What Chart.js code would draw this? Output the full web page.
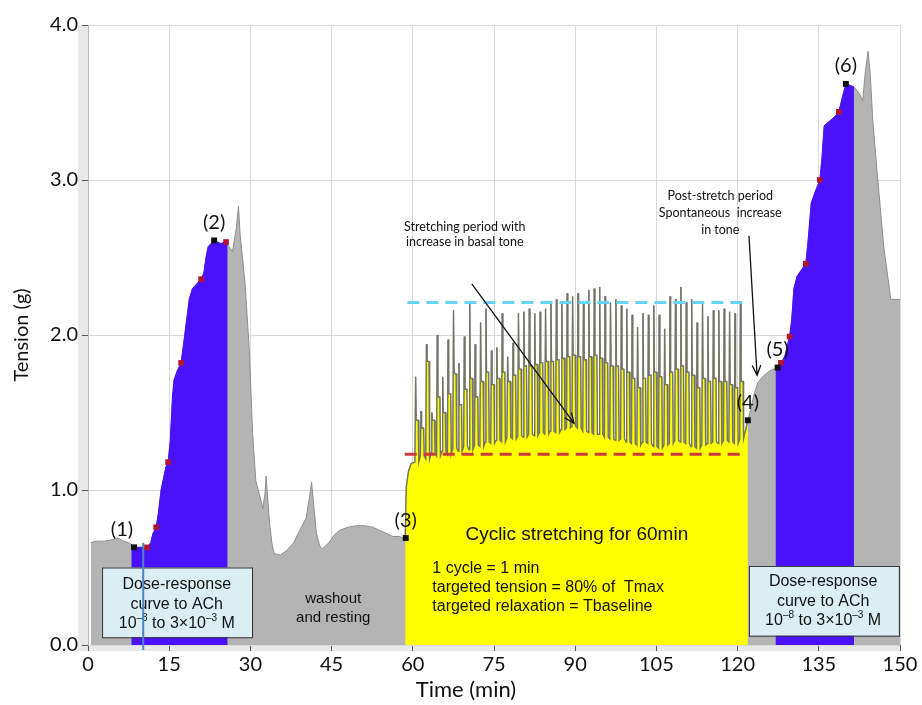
<!DOCTYPE html>
<html>
<head>
<meta charset="utf-8">
<script src="https://cdn.jsdelivr.net/npm/chart.js@4.4.0/dist/chart.umd.min.js"></script>
<style>
  html, body { margin: 0; padding: 0; background: #fff; }
</style>
</head>
<body>
<canvas id="chart-display" width="922" height="705"></canvas>
<script>
// tension trace: time in min, tension in g
var preTime    = [0.5, 1.5, 3.0, 4.5, 5.5, 6.5, 7.5];
var preTension = [0.66, 0.67, 0.67, 0.68, 0.69, 0.67, 0.66];

// first dose-response curve to ACh
var dose1Time    = [8.0, 8.5, 10.9, 11.6, 12.0, 12.6, 13.0, 13.5, 14.4, 14.8, 15.2, 15.6, 15.9, 16.5, 17.2, 17.8, 18.7, 19.3, 20.9, 21.4, 21.8, 22.2, 23.3, 24.5, 25.5, 25.8];
var dose1Tension = [0.65, 0.63, 0.63, 0.66, 0.72, 0.76, 0.85, 1.00, 1.15, 1.18, 1.32, 1.60, 1.71, 1.77, 1.82, 1.98, 2.23, 2.30, 2.36, 2.40, 2.50, 2.57, 2.61, 2.59, 2.60, 2.58];

// washout and resting
var washTime    = [26.3, 26.7, 27.4, 27.8, 28.1, 29.0, 29.8, 30.4, 31.0, 31.9, 32.3, 32.7, 32.9, 33.5, 34.0, 34.4, 35.5, 36.7, 38.0, 39.1, 40.3, 40.9, 41.3, 41.7, 42.2, 42.8, 43.3, 44.5, 45.5, 46.5, 48.0, 49.6, 51.0, 52.6, 54.5, 56.3, 57.5, 58.3];
var washTension = [2.56, 2.54, 2.69, 2.83, 2.65, 2.34, 1.90, 1.37, 1.06, 0.94, 0.88, 0.98, 1.09, 0.80, 0.65, 0.59, 0.58, 0.61, 0.66, 0.74, 0.82, 0.95, 1.05, 0.90, 0.72, 0.64, 0.62, 0.66, 0.71, 0.74, 0.76, 0.77, 0.77, 0.76, 0.73, 0.70, 0.70, 0.69];

// cyclic stretching, 1 cycle = 1 min, starting at min 60
var stretchLeadTime    = [58.6, 58.8, 59.2, 59.7];
var stretchLeadTension = [0.69, 1.02, 1.12, 1.17];
var cycleStart = 60;
var cyclePeaks = [1.73, 1.51, 1.94, 1.50, 2.00, 1.73, 1.97, 2.16, 1.82, 1.99,
                  2.21, 1.94, 2.08, 2.17, 1.90, 1.92, 2.14, 1.86, 1.95, 2.14,
                  2.15, 2.17, 2.14, 2.15, 2.17, 2.21, 2.23, 2.21, 2.27, 2.25,
                  2.27, 2.21, 2.29, 2.30, 2.31, 2.25, 2.21, 2.23, 2.19, 2.17,
                  2.13, 2.05, 2.14, 2.13, 2.19, 2.13, 2.04, 2.25, 2.23, 2.31,
                  2.21, 2.23, 2.08, 2.21, 2.12, 2.16, 2.16, 2.17, 2.15, 2.14,
                  2.21];
var cycleMids  = [1.45, 1.40, 1.83, 1.45, 1.60, 1.50, 1.62, 1.75, 1.55, 1.65,
                  1.72, 1.60, 1.70, 1.76, 1.68, 1.72, 1.76, 1.70, 1.74, 1.78,
                  1.80, 1.80, 1.81, 1.82, 1.83, 1.83, 1.84, 1.85, 1.86, 1.87,
                  1.86, 1.84, 1.86, 1.87, 1.85, 1.82, 1.80, 1.80, 1.78, 1.76,
                  1.72, 1.66, 1.72, 1.74, 1.76, 1.73, 1.68, 1.76, 1.78, 1.80,
                  1.76, 1.74, 1.66, 1.72, 1.70, 1.72, 1.70, 1.70, 1.68, 1.66,
                  1.70];
var cycleLows  = [1.18, 1.22, 1.20, 1.24, 1.22, 1.25, 1.23, 1.27, 1.25, 1.28,
                  1.26, 1.29, 1.28, 1.31, 1.30, 1.32, 1.31, 1.34, 1.33, 1.35,
                  1.34, 1.36, 1.35, 1.37, 1.36, 1.38, 1.37, 1.39, 1.40, 1.41,
                  1.40, 1.38, 1.37, 1.36, 1.36, 1.34, 1.33, 1.32, 1.33, 1.31,
                  1.30, 1.29, 1.31, 1.30, 1.28, 1.27, 1.29, 1.30, 1.32, 1.31,
                  1.30, 1.28, 1.27, 1.29, 1.30, 1.31, 1.30, 1.32, 1.31, 1.30,
                  1.33];

// post-stretch period
var postTime    = [121.9, 122.4, 123.0, 123.7, 124.6, 125.6, 126.5];
var postTension = [1.45, 1.52, 1.61, 1.69, 1.73, 1.76, 1.78];

// second dose-response curve to ACh
var dose2Time    = [127.0, 127.4, 128.0, 128.7, 129.2, 129.6, 130.0, 130.4, 131.0, 132.6, 133.0, 133.6, 134.4, 135.2, 135.6, 136.0, 137.0, 138.0, 138.7, 139.4, 140.0, 140.8, 141.5];
var dose2Tension = [1.78, 1.79, 1.82, 1.86, 1.93, 1.99, 2.10, 2.30, 2.38, 2.46, 2.60, 2.85, 2.93, 3.00, 3.15, 3.35, 3.38, 3.41, 3.44, 3.54, 3.62, 3.61, 3.60];

var tailTime    = [142.0, 142.6, 143.1, 143.6, 144.1, 144.5, 145.0, 145.9, 147.0, 148.3, 150.0];
var tailTension = [3.58, 3.55, 3.51, 3.70, 3.83, 3.68, 3.37, 3.00, 2.57, 2.23, 2.23];

// numbered points and ACh doses
var stepLabels  = ['(1)', '(2)', '(3)', '(4)', '(5)', '(6)'];
var stepTime    = [8.5, 23.3, 58.7, 121.9, 127.4, 140.0];
var stepTension = [0.63, 2.61, 0.69, 1.45, 1.79, 3.62];
var doseTime    = [10.9, 12.6, 14.8, 17.2, 20.9, 25.5, 128.0, 129.6, 132.6, 135.2, 138.7];
var doseTension = [0.63, 0.76, 1.18, 1.82, 2.36, 2.60, 1.82, 1.99, 2.46, 3.00, 3.44];

// stretching targets
var tBaseline = 1.23;
var tTarget = 2.21;
var targetStart = [58.5, 59.0];
var targetEnd = 121.0;
var achTime = 10.2;

var xTicks = [0, 15, 30, 45, 60, 75, 90, 105, 120, 135, 150];

function pts(t, v) {
    return t.map(function(x, i) { return { x: x, y: v[i] }; });
}

function cyclePoints() {
    var out = [];
    for (var i = 0; i < cyclePeaks.length; i++) {
        var t = cycleStart + i;
        out.push({ x: t + 0.40, y: cycleLows[i] });
        out.push({ x: t + 0.52, y: cyclePeaks[i] });
        out.push({ x: t + 0.62, y: cycleMids[i] });
        out.push({ x: t + 1.00, y: cycleMids[i] });
        out.push({ x: t + 1.10, y: cycleLows[i] });
    }
    return out;
}

var dose1 = pts(dose1Time, dose1Tension);
var dose2 = pts(dose2Time, dose2Tension);
var post = pts(postTime, postTension);
var stretch = pts(stretchLeadTime, stretchLeadTension).concat(cyclePoints(), [post[0]]);
var trace = pts(preTime, preTension).concat(dose1, pts(washTime, washTension), stretch, post.slice(1), dose2, pts(tailTime, tailTension));

function arrow(ctx, x1, y1, x2, y2) {
    var a = Math.atan2(y2 - y1, x2 - x1), h = 11;
    ctx.beginPath();
    ctx.moveTo(x1, y1);
    ctx.lineTo(x2, y2);
    ctx.moveTo(x2 - h * Math.cos(a - 0.4), y2 - h * Math.sin(a - 0.4));
    ctx.lineTo(x2, y2);
    ctx.lineTo(x2 - h * Math.cos(a + 0.4), y2 - h * Math.sin(a + 0.4));
    ctx.stroke();
}

// text with superscript parts, centred on cx
function richText(ctx, parts, cx, y, size) {
    var font = function(sup) { return (sup ? Math.round(size * 0.62) : size) + 'px "Liberation Sans"'; };
    var w = 0;
    parts.forEach(function(p) { ctx.font = font(p[1]); w += ctx.measureText(p[0]).width; });
    var x = cx - w / 2;
    ctx.textAlign = 'left';
    parts.forEach(function(p) {
        ctx.font = font(p[1]);
        ctx.fillText(p[0], x, p[1] ? y - size * 0.38 : y);
        x += ctx.measureText(p[0]).width;
    });
}

function doseBox(ctx, X, Y, x0, x1, y0, y1, cx, lineY) {
    ctx.fillStyle = '#dbeef4';
    ctx.strokeStyle = '#333';
    ctx.lineWidth = 1;
    ctx.fillRect(X(x0), Y(y0), X(x1) - X(x0), Y(y1) - Y(y0));
    ctx.strokeRect(X(x0) + 0.5, Y(y0) + 0.5, X(x1) - X(x0), Y(y1) - Y(y0));
    ctx.fillStyle = '#111';
    ctx.textAlign = 'center';
    ctx.font = '16px "Liberation Sans"';
    ctx.fillText('Dose-response', X(cx), Y(lineY[0]));
    ctx.fillText('curve to ACh', X(cx), Y(lineY[1]));
    richText(ctx, [['10', false], ['\u20138', true], [' to 3\u00d710', false], ['\u20133', true], [' M', false]], X(cx), Y(lineY[2]), 16);
}

var overlay = {
    id: 'overlay',
    beforeDraw: function(chart) {
        var ctx = chart.ctx, a = chart.chartArea;
        ctx.save();
        ctx.fillStyle = '#fff';
        ctx.fillRect(0, 0, chart.width, chart.height);
        ctx.fillStyle = '#e8e8e8';
        ctx.fillRect(a.left - 10, a.top, 10, a.bottom - a.top + 6);
        ctx.fillRect(a.left - 10, a.bottom, a.right - a.left + 10, 6);
        ctx.restore();
    },
    afterDatasetsDraw: function(chart) {
        var ctx = chart.ctx, xs = chart.scales.x, ys = chart.scales.y;
        var X = function(v) { return xs.getPixelForValue(v); };
        var Y = function(v) { return ys.getPixelForValue(v); };
        ctx.save();
        ctx.textBaseline = 'middle';

        doseBox(ctx, X, Y, 2.6, 30.3, 0.50, 0.05, 16.4, [0.387, 0.258, 0.135]);
        doseBox(ctx, X, Y, 122.1, 149.8, 0.51, 0.06, 135.8, [0.406, 0.277, 0.155]);

        // ACh addition line
        ctx.strokeStyle = '#4a86c8';
        ctx.lineWidth = 2;
        ctx.beginPath();
        ctx.moveTo(X(achTime), Y(0.66));
        ctx.lineTo(X(achTime), Y(0) + 5);
        ctx.stroke();

        ctx.fillStyle = '#111';
        ctx.textAlign = 'center';
        ctx.font = '15px "Liberation Sans"';
        ctx.fillText('washout', X(45.3), Y(0.297));
        ctx.fillText('and resting', X(45.3), Y(0.174));

        ctx.font = '19px "Liberation Sans"';
        ctx.fillText('Cyclic stretching for 60min', X(90.3), Y(0.71));
        ctx.textAlign = 'left';
        ctx.font = '16px "Liberation Sans"';
        ctx.fillText('1 cycle = 1 min', X(63.6), Y(0.49));
        ctx.fillText('targeted tension = 80% of  Tmax', X(63.6), Y(0.368));
        ctx.fillText('targeted relaxation = Tbaseline', X(63.6), Y(0.245));

        ctx.textAlign = 'center';
        ctx.font = '12.5px Lato';
        ctx.fillText('Stretching period with', X(69.6), Y(2.70));
        ctx.fillText('increase in basal tone', X(69.6), Y(2.60));
        ctx.fillText('Post-stretch period', X(116.8), Y(2.90));
        ctx.fillText('Spontaneous  increase', X(116.8), Y(2.79));
        ctx.fillText('in tone', X(116.8), Y(2.68));

        ctx.strokeStyle = '#111';
        ctx.lineWidth = 1.3;
        arrow(ctx, X(70.9), Y(2.33), X(89.8), Y(1.43));
        arrow(ctx, X(122.1), Y(2.64), X(123.6), Y(1.74));

        ctx.font = '20px Lato';
        stepLabels.forEach(function(lab, i) {
            var dx = i === 0 ? -12 : 0;
            ctx.fillText(lab, X(stepTime[i]) + dx, Y(stepTension[i]) - 18);
        });
        ctx.restore();
    },
    afterDraw: function(chart) {
        var ctx = chart.ctx;
        ctx.save();
        ctx.fillStyle = '#111';
        ctx.textAlign = 'center';
        ctx.textBaseline = 'middle';
        ctx.font = '22px Lato';
        ctx.fillText('Time (min)', 466, 690);
        ctx.restore();
    }
};

Chart.defaults.font.family = 'Lato';
Chart.defaults.color = '#111';

var ctx = document.getElementById('chart-display');

new Chart(ctx, {
    type: 'line',
    data: {
        datasets: [
            { type: 'scatter', data: pts(stepTime, stepTension), pointStyle: 'rect', pointRadius: 4.2,
              backgroundColor: '#111', borderColor: '#111', borderWidth: 0, order: 1 },
            { type: 'scatter', data: pts(doseTime, doseTension), pointStyle: 'rect', pointRadius: 4,
              backgroundColor: '#b3142f', borderColor: '#b3142f', borderWidth: 0, order: 1 },
            { data: [{ x: targetStart[0], y: tBaseline }, { x: targetEnd, y: tBaseline }],
              borderColor: '#cc3b3b', borderWidth: 3, borderDash: [12, 7], fill: false, order: 2 },
            { data: [{ x: targetStart[1], y: tTarget }, { x: targetEnd, y: tTarget }],
              borderColor: '#66d4f6', borderWidth: 3, borderDash: [12, 7], fill: false, order: 2 },
            { data: stretch, borderColor: 'rgba(112,112,100,0.95)', borderWidth: 1.4,
              backgroundColor: '#ffff00', fill: 'origin', order: 5 },
            { data: dose1, borderColor: '#4a12fa', borderWidth: 1,
              backgroundColor: '#4a12fa', fill: 'origin', order: 5 },
            { data: dose2, borderColor: '#4a12fa', borderWidth: 1,
              backgroundColor: '#4a12fa', fill: 'origin', order: 5 },
            { data: trace, borderColor: '#8e8e8e', borderWidth: 1,
              backgroundColor: '#b4b4b4', fill: 'origin', order: 10 }
        ]
    },
    options: {
        responsive: false,
        animation: false,
        devicePixelRatio: 1,
        layout: { padding: { top: 25, right: 22, left: 0, bottom: 0 } },
        plugins: { legend: { display: false }, tooltip: { enabled: false } },
        elements: { point: { radius: 0 }, line: { tension: 0 } },
        scales: {
            x: {
                type: 'linear', min: 0, max: 150,
                afterBuildTicks: function(s) { s.ticks = xTicks.map(function(v) { return { value: v }; }); },
                ticks: { font: { size: 20 }, color: '#111', padding: 2, maxRotation: 0, autoSkip: false },
                grid: { color: '#d9d9d9', tickColor: '#555', tickLength: 6 },
                border: { display: false },
                afterFit: function(s) { s.height = 60; }
            },
            y: {
                min: 0, max: 4,
                ticks: { stepSize: 1, font: { size: 20 }, color: '#111', padding: 4,
                         callback: function(v) { return v.toFixed(1); } },
                grid: { color: '#d9d9d9', tickColor: '#555', tickLength: 6 },
                border: { color: '#b8b8b8' },
                title: { display: true, text: 'Tension (g)', font: { size: 20 }, color: '#111', padding: { top: 10, bottom: 0 } },
                afterFit: function(s) { s.width = 88; }
            }
        }
    },
    plugins: [overlay]
});
</script>
</body>
</html>
